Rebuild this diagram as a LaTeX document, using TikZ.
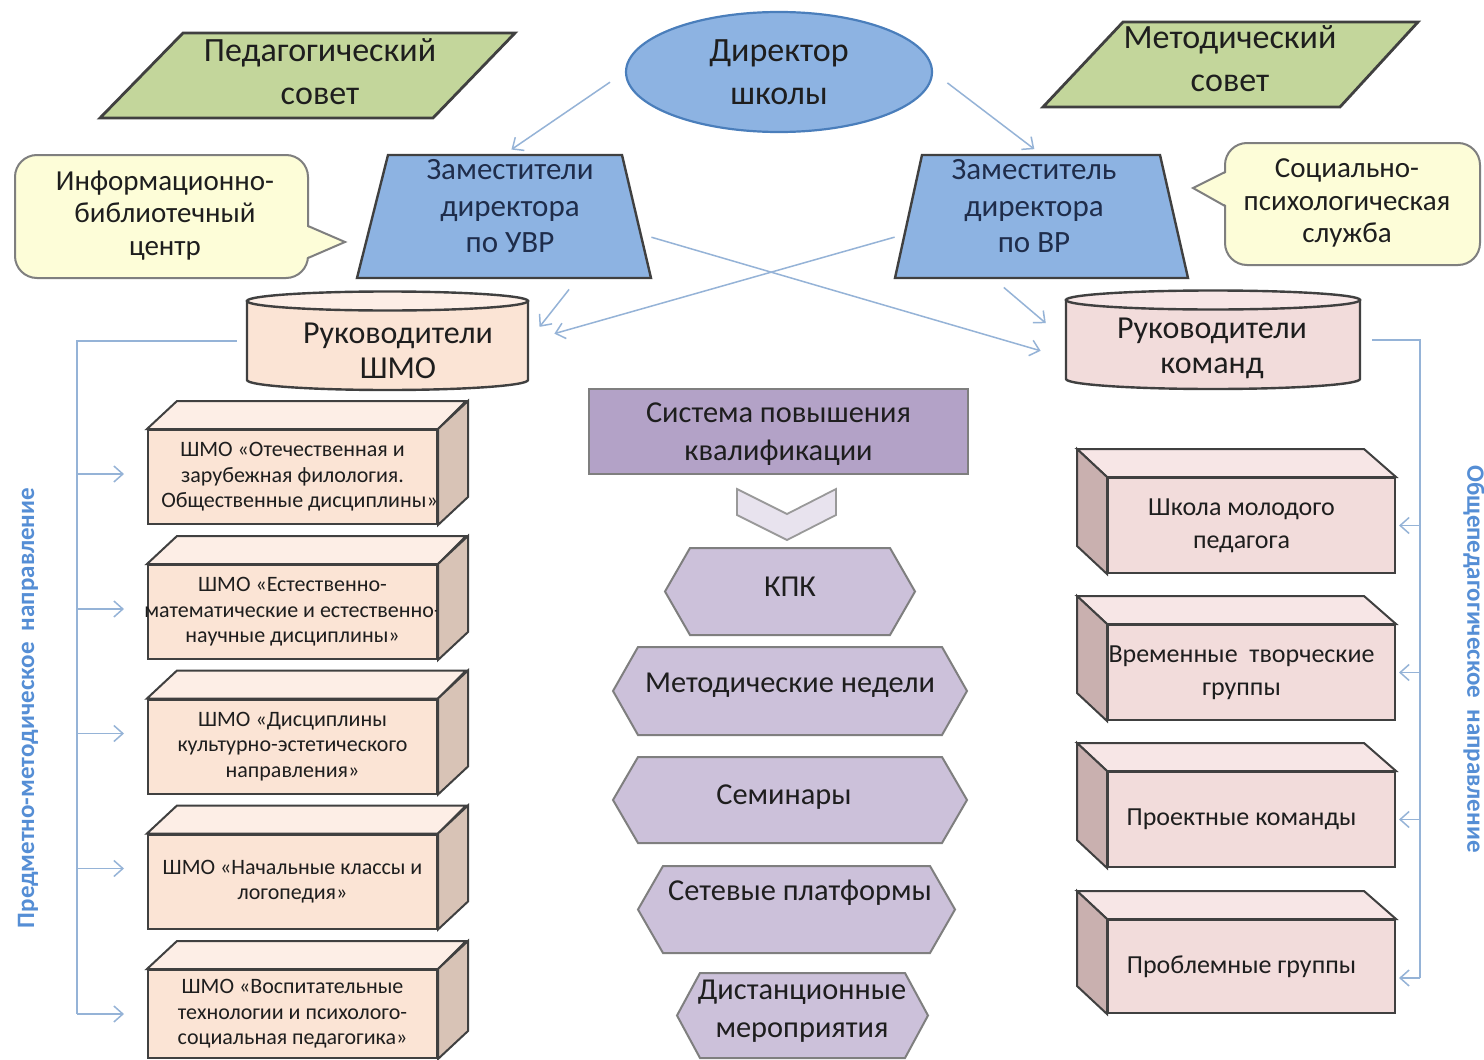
\documentclass[tikz,border=0pt]{standalone}
\usepackage{fontspec}
\setmainfont{Carlito}
\usetikzlibrary{arrows.meta,shapes.geometric,calc}
\definecolor{grn}{HTML}{C3D69B}
\definecolor{blu}{HTML}{8DB3E2}
\definecolor{bluedge}{HTML}{4A7EBB}
\definecolor{ylw}{HTML}{FDFDD8}
\definecolor{peach}{HTML}{FBE4D5}
\definecolor{peachtop}{HTML}{FDEEE6}
\definecolor{peachside}{HTML}{D8C3B6}
\definecolor{pinkf}{HTML}{F2DCDB}
\definecolor{pinktop}{HTML}{F7E6E6}
\definecolor{pinkside}{HTML}{C9B0AF}
\definecolor{purp}{HTML}{B3A2C7}
\definecolor{lpurp}{HTML}{CCC1DA}
\definecolor{chev}{HTML}{E8E3EE}
\definecolor{lnk}{HTML}{95B3D7}
\definecolor{vtxt}{HTML}{558ED5}
\definecolor{dk}{HTML}{404040}
\definecolor{gr}{HTML}{7F7F7F}
\definecolor{txtc}{HTML}{1E1E1E}
\definecolor{navy}{HTML}{1F2D4B}
\newcommand{\bigf}{\fontsize{17}{21.5}\selectfont}
\newcommand{\trf}{\fontsize{15.5}{18.25}\selectfont}
\newcommand{\callf}{\fontsize{14.5}{16.25}\selectfont}
\newcommand{\cylf}{\fontsize{16}{17.5}\selectfont}
\newcommand{\boxLf}{\fontsize{11}{12.75}\selectfont}
\newcommand{\boxRf}{\fontsize{13}{16.5}\selectfont}
\newcommand{\hexf}{\fontsize{15.2}{19}\selectfont}
\newcommand{\vertf}{\bfseries\fontsize{12.5}{14}\selectfont}
\newcommand{\rl}{\hspace*{-10pt}}
\begin{document}
\begin{tikzpicture}[x=0.5pt,y=-0.5pt,
  txt/.style={text=txtc, align=center, inner sep=0pt},
  shp/.style={draw=dk, line width=1.2pt},
  thin/.style={draw=gr, line width=1pt},
  face/.style={draw=dk, line width=1pt},
  bbox/.style={inner sep=0pt, draw=none},
  link/.style={draw=lnk, line width=0.75pt},
  arr/.style={link, -{Straight Barb[length=4.5pt,width=8pt]}},
  lbox/.style={draw=dk, line width=1pt, fill=peach, minimum width=144.5pt, minimum height=47pt, inner sep=0pt, align=center, text=txtc, font=\boxLf},
  rbox/.style={draw=dk, line width=1pt, fill=pinkf, minimum width=143.5pt, minimum height=47.5pt, inner sep=0pt, align=center, text=txtc, font=\boxRf},
  callout/.style={draw=gr, line width=1pt, fill=ylw}
]
\useasboundingbox (0,0) rectangle (1484,1060);
\fill[white] (0,0) rectangle (1484,1060);

% ---- top row
\draw[shp, line width=1.4pt, fill=grn] (183,33) -- (515,33) -- (433,118) -- (100,118) -- cycle;
\node[txt, font=\bigf] (ped) at (320,71.5) {Педагогический\\совет};

\node[ellipse, draw=bluedge, line width=1.1pt, fill=blu, minimum width=153pt, minimum height=60pt, txt, font=\bigf] (dir) at (779,72) {Директор\\школы};

\draw[shp, line width=1.4pt, fill=grn] (1123,22) -- (1418,22) -- (1340,107) -- (1043,107) -- cycle;
\node[txt, font=\bigf] (met) at (1230,59) {Методический\\совет};

% ---- deputies
\draw[shp, fill=blu] (388,155) -- (622,155) -- (651,278) -- (357,278) -- cycle;
\node[bbox, minimum width=147pt, minimum height=61.5pt] (uvr) at (504,216.5) {};
\node[txt, text=navy, font=\trf] (uvrt) at (510,206.5) {Заместители\\директора\\по УВР};

\draw[shp, fill=blu] (922,155) -- (1160,155) -- (1188,278) -- (895,278) -- cycle;
\node[bbox, minimum width=146.5pt, minimum height=61.5pt] (vr) at (1041.5,216.5) {};
\node[txt, text=navy, font=\trf] (vrt) at (1034,206.5) {Заместитель\\директора\\по ВР};

% ---- callouts
\draw[callout, rounded corners=11pt] (15,155) rectangle (308,278);
\fill[ylw] (305,226) -- (345,242) -- (305,258) -- cycle;
\draw[thin] (308,226) -- (345,242) -- (308,258);
\node[txt, font=\callf] (inf) at (165,215.5) {Информационно-\\библиотечный\\центр};

\draw[callout, rounded corners=11pt] (1225,143) rectangle (1480,265);
\fill[ylw] (1228,172) -- (1193,188) -- (1228,206) -- cycle;
\draw[thin] (1225,172) -- (1193,188) -- (1225,206);
\node[txt, font=\callf] (soc) at (1347,203) {Социально-\\психологическая\\служба};

% ---- cylinders
\draw[shp, fill=peach] (247,301) -- (247,380) arc[start angle=180, end angle=0, x radius=140.5, y radius=10] -- (528,301) -- cycle;
\draw[shp, fill=peachtop] (387.5,301) ellipse[x radius=140.5, y radius=9.5];
\node[bbox, minimum width=140.5pt, minimum height=49pt] (shmo) at (387.5,341) {};
\node[txt, font=\cylf] (shmot) at (398,350.5) {Руководители\\ШМО};

\draw[shp, fill=pinkf] (1066,300) -- (1066,379) arc[start angle=180, end angle=0, x radius=147, y radius=10] -- (1360,300) -- cycle;
\draw[shp, fill=pinktop] (1213,300) ellipse[x radius=147, y radius=9.5];
\node[bbox, minimum width=147pt, minimum height=49pt] (kom) at (1213,340) {};
\node[txt, font=\cylf] (komt) at (1212,348.5) {Руководители\\команд};

% ---- director arrows
\draw[arr, shorten <=9pt, shorten >=4.5pt] (dir.west) -- (uvr.north);
\draw[arr, shorten <=9pt, shorten >=4.5pt] (dir.east) -- (vr.north);
\draw[arr, shorten <=7pt, shorten >=9pt] (uvr.-40) -- (shmo.east);
\draw[arr, shorten <=7pt, shorten >=13pt] (vr.-128) -- (kom.west);
\draw[arr, shorten >=13pt] (uvr.-8) -- (kom.187);
\draw[arr, shorten >=13.5pt] (vr.188) -- (shmo.east);

% ---- qualification system
\node[draw=gr, line width=1pt, fill=purp, minimum width=189.5pt, minimum height=42.5pt, inner sep=0pt, txt, font=\hexf, text depth=0pt] (sys) at (778.5,431.5) {Система повышения\\квалификации};
\draw[draw=gr!80, line width=0.9pt, fill=chev] (737,489) -- (787,514) -- (836,489) -- (836,515) -- (787,540) -- (737,515) -- cycle;

\tikzset{hex/.style={draw=gr, line width=1pt, fill=lpurp}}
\draw[hex] (665,591.5) -- (690,548) -- (890,548) -- (915,591.5) -- (890,635) -- (690,635) -- cycle;
\node[txt, font=\hexf] (kpk) at (790,587) {КПК};
\draw[hex] (613,691) -- (638,647) -- (942,647) -- (967,691) -- (942,735) -- (638,735) -- cycle;
\node[txt, font=\hexf] (mned) at (790,685) {Методические недели};
\draw[hex] (613,800) -- (638,757) -- (942,757) -- (967,800) -- (942,843) -- (638,843) -- cycle;
\node[txt, font=\hexf] (sem) at (784,797) {Семинары};
\draw[hex] (638,909.5) -- (663,866) -- (930,866) -- (955,909.5) -- (930,953) -- (663,953) -- cycle;
\node[txt, font=\hexf] (set) at (800,893) {Сетевые платформы};
\draw[hex] (677,1015.5) -- (700,973) -- (905,973) -- (928,1015.5) -- (905,1058) -- (700,1058) -- cycle;
\node[txt, font=\hexf] (dist) at (802,1011) {Дистанционные\\мероприятия};

% ---- left boxes
\node[lbox] (L1) at (292.5,477) {ШМО «Отечественная и\\зарубежная филология.\\\makebox[0pt][c]{\hspace*{7pt}Общественные дисциплины»}};
\node[lbox] (L2) at (292.5,612) {ШМО «Естественно-\\\makebox[0pt][c]{математические и естественно-}\\научные дисциплины»};
\node[lbox] (L3) at (292.5,746.5) {ШМО «Дисциплины\\культурно-эстетического\\направления»};
\node[lbox] (L4) at (292.5,881.5) {ШМО «Начальные классы и\\логопедия»};
\node[lbox, minimum height=44pt] (L5) at (292.5,1014) {ШМО «Воспитательные\\технологии и психолого-\\социальная педагогика»};
\foreach \n in {L1,L2,L3,L4,L5}{
  \draw[face, fill=peachtop] (\n.north west) -- ++(30,-28) -- ++(289,0) -- (\n.north east) -- cycle;
  \draw[face, fill=peachside] (\n.north east) -- ++(30,-28) -- ($(\n.south east)+(30,-28)$) -- (\n.south east) -- cycle;
}

% ---- right boxes
\node[rbox] (R1) at (1251.5,525.5) {\rl Школа молодого\\\rl педагога};
\node[rbox] (R2) at (1251.5,672.5) {\rl Временные \ творческие\\\rl группы};
\node[rbox] (R3) at (1251.5,819.5) {\rl Проектные команды};
\node[rbox, minimum height=46.5pt] (R4) at (1251.5,966.5) {\rl Проблемные группы};
\foreach \n in {R1,R2,R3,R4}{
  \draw[face, fill=pinktop] (\n.north west) -- ++(-30,-28) -- ++(287,0) -- (\n.north east) -- cycle;
  \draw[face, fill=pinkside] (\n.north west) -- ++(-30,-28) -- ($(\n.south west)+(-30,-28)$) -- (\n.south west) -- cycle;
}

% ---- brackets
\coordinate (brL) at (77,341);
\draw[link, shorten <=5pt] (shmo.west) -- (brL) -- (brL |- L5.west);
\foreach \n/\s in {L1/1.5pt,L2/1.5pt,L3/6.5pt,L4/6.5pt,L5/0pt}{
  \draw[arr, shorten >=11.5pt] ([yshift=\s]brL |- \n.west) -- ([yshift=\s]\n.west);
}
\coordinate (brR) at (1420,340);
\draw[link, shorten <=6pt] (kom.east) -- (brR) -- ([yshift=-5.75pt]brR |- R4.east);
\foreach \n/\s in {R1/0pt,R2/0pt,R3/0pt,R4/-5.75pt}{
  \draw[arr, shorten >=1.5pt] ([yshift=\s]brR |- \n.east) -- ([yshift=\s]\n.east);
}

\node[txt, text=vtxt, font=\vertf, rotate=90] (vl) at (28,708) {Предметно-методическое \ направление};
\node[txt, text=vtxt, font=\vertf, rotate=-90] (vrl) at (1474,659) {Общепедагогическое \ направление};
\end{tikzpicture}
\end{document}
